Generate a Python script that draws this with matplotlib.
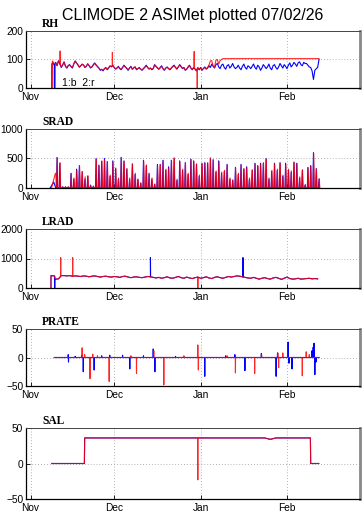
import numpy as np
import matplotlib
matplotlib.use("Agg")
import matplotlib.pyplot as plt

# ---------------- data (x = days since Nov 1, 2006) ----------------
month_ticks = [0, 30, 61, 92]
month_labels = ["Nov", "Dec", "Jan", "Feb"]

# RH (%) sampled every 0.5 day from day 9.0
rh_start = 9.0
rh_blue = [90, 78, 95, 85, 72, 80, 92, 76, 70, 78,
           82, 75, 70, 85, 95, 88, 80, 74, 78, 84,
           80, 72, 76, 85, 78, 70, 74, 82, 88, 80,
           76, 70, 62, 65, 60, 68, 72, 64, 70, 78,
           74, 80, 72, 66, 70, 76, 68, 64, 72, 80,
           74, 68, 62, 70, 76, 66, 70, 74, 64, 68,
           72, 66, 62, 68, 74, 80, 72, 66, 70, 64,
           68, 82, 76, 70, 66, 72, 78, 68, 62, 70,
           74, 68, 64, 70, 76, 80, 72, 66, 74, 82,
           76, 68, 72, 62, 66, 74, 80, 70, 64, 72,
           66, 60, 70, 64, 72, 62, 68, 74, 66, 70,
           78, 72, 84, 76, 70, 82, 86, 74, 68, 80,
           84, 72, 66, 78, 82, 70, 76, 86, 74, 68,
           72, 80, 70, 64, 76, 84, 72, 66, 78, 74,
           68, 76, 84, 72, 66, 80, 74, 62, 70, 82,
           76, 68, 74, 84, 70, 64, 78, 82, 72, 66,
           74, 86, 78, 70, 82, 76, 68, 80, 88, 74,
           80, 90, 84, 76, 88, 92, 82, 78, 90, 86,
           86, 80, 74, 72, 60, 30, 62, 68, 72, 100]
rh_blue_head_days = [7.6, 7.62, 8.0, 8.5, 8.52, 8.75, 8.77]
rh_blue_head_vals = [0, 85, 88, 80, 0, 0, 82]
rh_red = [88, 80, 96, 84, 74, 82, 90, 78, 70, 80,
          80, 76, 72, 84, 94, 86, 82, 72, 78, 82,
          82, 72, 78, 84, 78, 72, 74, 80, 86, 82,
          74, 70, 64, 66, 62, 68, 70, 66, 72, 76,
          76, 78, 72, 68, 70, 74, 68, 66, 72, 78,
          74, 70, 64, 70, 74, 66, 72, 74, 66, 68,
          70, 66, 64, 68, 72, 78, 72, 68, 70, 66,
          68, 80, 76, 72, 66, 70, 76, 68, 64, 70,
          72, 68, 66, 70, 74, 78, 72, 68, 74, 80,
          74, 70, 72, 64, 66, 72, 78, 70, 66, 72,
          68, 62, 72, 66, 70, 64, 68, 72, 68, 72,
          80, 95, 96, 78, 72, 98, 100, 84, 96, 100,
          103, 103, 103, 103, 103, 103, 103, 103, 103, 103,
          103, 103, 103, 103, 103, 103, 103, 103, 103, 103,
          103, 103, 103, 103, 103, 103, 103, 103, 103, 103,
          103, 103, 103, 103, 103, 103, 103, 103, 103, 103,
          103, 103, 103, 103, 103, 103, 103, 103, 103, 103,
          103, 103, 103, 103, 103, 103, 103, 103, 103, 103,
          103, 103, 103, 103, 103, 103, 103, 103, 103, 103]
rh_red_head_days = [7.8, 7.82, 8.5]
rh_red_head_vals = [0, 95, 86]
rh_red_spike_days = [10.6, 29.35, 58.7, 59.8]
rh_red_spike_vals = [130, 125, 128, 0]

# SRAD daily peaks (W/m2), days 9..103
srad_first_day = 9
srad_blue = [517, 420, 20, 20, 20, 250, 150, 320, 380, 280,
             150, 200, 50, 30, 500, 390, 450, 500, 450, 200,
             460, 330, 150, 520, 460, 320, 150, 410, 230, 150,
             80, 470, 380, 250, 150, 60, 400, 400, 470, 300,
             360, 470, 510, 130, 460, 300, 430, 230, 490, 460,
             400, 200, 420, 430, 420, 510, 480, 270, 460, 250,
             280, 400, 150, 130, 350, 230, 400, 320, 360, 150,
             300, 420, 380, 420, 420, 500, 150, 280, 420, 300,
             430, 200, 420, 300, 270, 440, 420, 170, 300, 50,
             350, 380, 600, 330, 150]
srad_red = [510, 430, 20, 20, 20, 240, 170, 300, 370, 260,
            190, 210, 40, 30, 490, 370, 460, 480, 430, 220,
            440, 340, 170, 510, 450, 330, 170, 400, 250, 140,
            90, 460, 390, 230, 170, 70, 380, 390, 460, 320,
            340, 460, 500, 150, 440, 320, 420, 250, 480, 450,
            410, 220, 400, 420, 430, 500, 470, 290, 450, 270,
            300, 390, 170, 140, 340, 250, 390, 330, 350, 170,
            310, 410, 370, 410, 430, 490, 170, 300, 410, 320,
            420, 220, 400, 320, 290, 430, 410, 190, 310, 60,
            340, 370, 590, 320, 160]

# LRAD daily values (W/m2), days 9..103
lrad_first_day = 9
lrad_blue = [300, 310, 420, 420, 410, 420, 400, 410, 400, 390,
             410, 400, 380, 400, 410, 390, 370, 390, 400, 380,
             370, 390, 380, 360, 390, 400, 370, 350, 370, 380,
             360, 350, 370, 390, 380, 360, 340, 360, 330, 350,
             380, 340, 330, 360, 390, 350, 330, 370, 340, 320,
             350, 370, 330, 350, 380, 340, 320, 360, 380, 350,
             330, 360, 390, 370, 390, 410, 400, 380, 360, 340,
             330, 360, 330, 300, 330, 350, 320, 300, 340, 360,
             330, 290, 330, 370, 320, 300, 310, 330, 300, 310,
             320, 330, 310, 320, 310]
lrad_head_days = [7.3, 7.32, 8.6, 8.62, 8.7, 8.72]
lrad_head_vals = [0, 420, 410, 0, 0, 300]
lrad_blue_spike_days = [43.0, 76.2]
lrad_blue_spike_vals = [1030, 1030]
lrad_red_spike_days = [10.8, 15.1, 60.0]
lrad_red_spike_vals = [1030, 1030, 0]

# PRATE (mm/hr) events on a zero baseline
prate_span = [8.5, 103.5]
prate_blue_days = [13.5, 13.6, 16.0, 18.3, 18.9, 22.8, 25.5, 28.4, 33.0, 35.6,
                   40.5, 44.0, 44.6, 52.0, 62.5, 70.0, 73.3, 76.9, 82.8, 88.1,
                   88.6, 92.4, 92.7, 93.8, 101.0, 101.4, 101.7, 102.0, 102.4]
prate_blue_vals = [5, -8, 2, 4, -25, -22, 3, 4, 4, -20,
                   3, 15, -25, 2, -33, 3, 5, -23, 7, -33,
                   8, 27, -10, -20, 12, 18, 25, -30, -8]
prate_red_days = [18.5, 19.4, 21.3, 22.3, 24.0, 28.2, 36.0, 38.0, 44.2, 47.8,
                  55.0, 60.0, 60.2, 70.5, 73.5, 80.4, 82.9, 88.7, 89.0, 90.5,
                  97.5, 98.9, 100.0]
prate_red_vals = [17, 5, -37, 6, 3, -42, 3, -28, 12, -48,
                  3, 22, -22, 3, -27, -28, 5, 8, -18, 8,
                  -32, 10, 5]

# SAL (psu)
sal_days = [7.6, 19.3, 19.4, 84.0, 86.0, 88.0, 100.4, 100.5, 103.4]
sal_vals = [0, 0, 36, 36, 34, 36, 36, 0, 0]
sal_red_spike_days = [60.0]
sal_red_spike_vals = [-23]

# ---------------- helpers ----------------
def merge(days_a, vals_a, days_b, vals_b):
    d = np.concatenate([np.asarray(days_a, float), np.asarray(days_b, float)])
    v = np.concatenate([np.asarray(vals_a, float), np.asarray(vals_b, float)])
    o = np.argsort(d, kind="stable")
    return d[o], v[o]

def add_spikes(days, vals, sdays, svals, hw=0.06):
    days = np.asarray(days, float)
    vals = np.asarray(vals, float)
    nd, nv = [], []
    for x, y in zip(sdays, svals):
        b0 = np.interp(x - hw, days, vals)
        b1 = np.interp(x + hw, days, vals)
        nd += [x - hw, x, x + hw]
        nv += [b0, y, b1]
    return merge(days, vals, nd, nv)

def daily_spikes(first_day, peaks, offset):
    d, v = [], []
    for i, p in enumerate(peaks):
        day = first_day + i
        d += [day + offset - 0.2, day + offset, day + offset + 0.2]
        v += [0, p, 0]
    return d, v

def events(span, days, vals):
    d = [span[0]]
    v = [0]
    for x, y in sorted(zip(days, vals)):
        d += [x - 0.05, x, x + 0.05]
        v += [0, y, 0]
    d.append(span[1])
    v.append(0)
    return d, v

BLUE = "#0000ff"
RED = "#ff0000"
LW = 0.8
RA = 0.85

plt.rcParams["font.family"] = ["Liberation Sans", "DejaVu Sans"]
fig = plt.figure(figsize=(3.64, 5.31), dpi=100)
W, H = 364.0, 531.0

def make_ax(top, bottom, ylim, yticks, label):
    ax = fig.add_axes([26 / W, 1 - bottom / H, (360 - 26) / W, (bottom - top) / H])
    ax.set_xlim(-1.65, 118.2)
    ax.set_ylim(*ylim)
    ax.set_xticks(month_ticks)
    ax.set_xticklabels(month_labels)
    ax.set_yticks(yticks)
    ax.tick_params(direction="in", length=3, width=0.6, labelsize=7.3, colors="black")
    ax.tick_params(axis="x", pad=3)
    ax.tick_params(axis="y", pad=2)
    ax.grid(True, linestyle=(0, (1, 2.5)), color="#999999", linewidth=0.6)
    ax.set_axisbelow(True)
    ax.spines["left"].set_color("black")
    ax.spines["bottom"].set_color("black")
    ax.spines["left"].set_linewidth(0.9)
    ax.spines["bottom"].set_linewidth(0.9)
    ax.spines["top"].set_color("#444444")
    ax.spines["top"].set_linewidth(0.7)
    ax.spines["right"].set_color("#888888")
    ax.spines["right"].set_linewidth(2.0)
    ax.text(0.048, 1.0 + 4 / (bottom - top), label, transform=ax.transAxes,
            fontsize=8.3, fontweight="bold", family=["Liberation Serif", "DejaVu Serif"],
            va="baseline", ha="left")
    return ax

# ---- RH ----
ax = make_ax(31, 88, (0, 200), [0, 100, 200], "RH")
rh_days = rh_start + 0.5 * np.arange(len(rh_blue))
bd, bv = merge(rh_blue_head_days, rh_blue_head_vals, rh_days, rh_blue)
ax.plot(bd, bv, color=BLUE, lw=LW)
rd, rv = merge(rh_red_head_days, rh_red_head_vals, rh_start + 0.5 * np.arange(len(rh_red)), rh_red)
rd, rv = add_spikes(rd, rv, rh_red_spike_days, rh_red_spike_vals)
ax.plot(rd, rv, color=RED, lw=LW, alpha=RA)
ax.text(11.3, 7, "1:b  2:r", fontsize=7.5, va="baseline", ha="left")

fig.text(193 / W, 1 - 20 / H, "CLIMODE 2 ASIMet plotted 07/02/26",
         fontsize=11.5, ha="center", va="baseline")

# ---- SRAD ----
ax = make_ax(129, 188, (0, 1000), [0, 500, 1000], "SRAD")
d, v = daily_spikes(srad_first_day, srad_blue, 0.5)
d, v = merge([7.0, 8.3, 8.6, 8.9, 9.0], [0, 100, 60, 20, 0], d, v)
ax.plot(d, v, color=BLUE, lw=LW)
d, v = daily_spikes(srad_first_day, srad_red, 0.58)
d, v = merge([7.5, 8.9, 9.1, 9.2], [0, 250, 240, 0], d, v)
ax.plot(d, v, color=RED, lw=LW, alpha=RA)

# ---- LRAD ----
ax = make_ax(229, 288, (0, 2000), [0, 1000, 2000], "LRAD")
ld = lrad_first_day + np.arange(len(lrad_blue))
d, v = merge(lrad_head_days, lrad_head_vals, ld, lrad_blue)
d, v = add_spikes(d, v, lrad_blue_spike_days, lrad_blue_spike_vals)
ax.plot(d, v, color=BLUE, lw=LW)
d, v = merge(lrad_head_days[:3], lrad_head_vals[:3], ld, lrad_blue)
d, v = add_spikes(d, v, lrad_red_spike_days, lrad_red_spike_vals)
ax.plot(d, v, color=RED, lw=LW, alpha=RA)

# ---- PRATE ----
ax = make_ax(329, 386, (-50, 50), [-50, 0, 50], "PRATE")
d, v = events(prate_span, prate_blue_days, prate_blue_vals)
ax.plot(d, v, color=BLUE, lw=LW)
d, v = events(prate_span, prate_red_days, prate_red_vals)
ax.plot(d, v, color=RED, lw=LW, alpha=RA)

# ---- SAL ----
ax = make_ax(428, 499, (-50, 50), [-50, 0, 50], "SAL")
ax.plot(sal_days, sal_vals, color=BLUE, lw=LW)
d, v = add_spikes(sal_days, sal_vals, sal_red_spike_days, sal_red_spike_vals)
ax.plot(d, v, color=RED, lw=LW, alpha=RA)

fig.savefig("out.png", dpi=100)
